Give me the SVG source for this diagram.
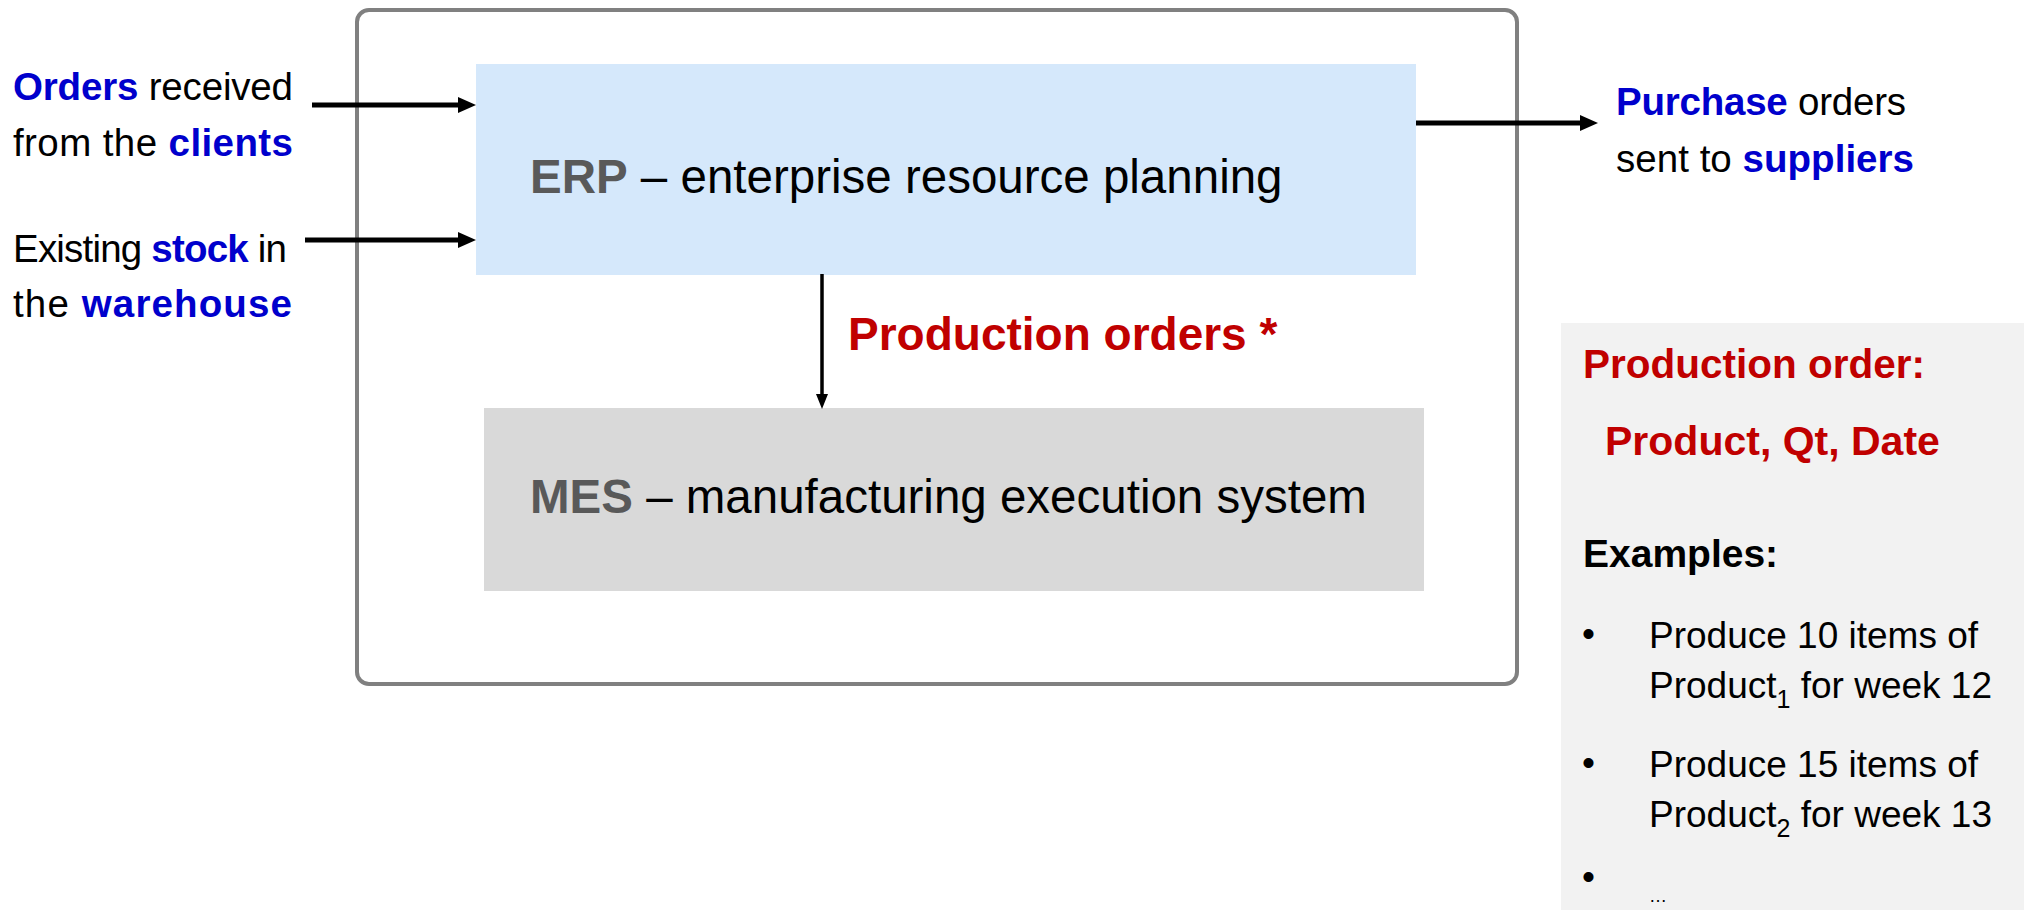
<svg xmlns="http://www.w3.org/2000/svg" width="2024" height="910" viewBox="0 0 2024 910">
  <style>
    text { font-family: "Liberation Sans", Arial, sans-serif; fill: #000; }
    .b { font-weight: bold; }
    .blue { fill: #0000CC; font-weight: bold; }
    .red { fill: #C00000; font-weight: bold; }
    .grey { fill: #595959; font-weight: bold; }
    .lbl { font-size: 38.5px; }
    .sys { font-size: 47.5px; }
    .conn { stroke: #000; fill: none; }
  </style>
  <defs>
    <marker id="ah" markerUnits="userSpaceOnUse" markerWidth="18" markerHeight="16" refX="8" refY="8" orient="auto">
      <path d="M0,0 L18,8 L0,16 z" fill="#000"/>
    </marker>
    <marker id="ahs" markerUnits="userSpaceOnUse" markerWidth="15" markerHeight="12" refX="6" refY="6" orient="auto">
      <path d="M0,0 L15,6 L0,12 z" fill="#000"/>
    </marker>
  </defs>

  <rect width="2024" height="910" fill="#fff"/>

  <g id="container">
    <rect x="357" y="10" width="1160" height="674" rx="12" ry="12" fill="#fff" stroke="#808080" stroke-width="4"/>
  </g>

  <g id="erp">
    <rect x="476" y="64" width="940" height="211" fill="#D5E8FB"/>
    <text class="sys" x="530" y="193"><tspan class="grey">ERP</tspan> – enterprise resource planning</text>
  </g>

  <g id="mes">
    <rect x="484" y="408" width="940" height="183" fill="#D9D9D9"/>
    <text class="sys" x="530" y="513"><tspan class="grey">MES</tspan> – manufacturing execution system</text>
  </g>

  <g id="orders-input">
    <text class="lbl" x="13" y="100" textLength="280" lengthAdjust="spacing"><tspan class="blue">Orders</tspan> received</text>
    <text class="lbl" x="13" y="156" textLength="280" lengthAdjust="spacing">from the <tspan class="blue">clients</tspan></text>
  </g>

  <g id="stock-input">
    <text class="lbl" x="13" y="262" textLength="274" lengthAdjust="spacing">Existing <tspan class="blue">stock</tspan> in</text>
    <text class="lbl" x="13" y="317" textLength="279" lengthAdjust="spacing">the <tspan class="blue">warehouse</tspan></text>
  </g>

  <g id="purchase-output">
    <text class="lbl" x="1616" y="115" textLength="290" lengthAdjust="spacing"><tspan class="blue">Purchase</tspan> orders</text>
    <text class="lbl" x="1616" y="172" textLength="298" lengthAdjust="spacing">sent to <tspan class="blue">suppliers</tspan></text>
  </g>

  <g id="production-order-panel">
    <rect x="1561" y="323" width="463" height="587" fill="#F2F2F2"/>
    <text class="red" x="1583" y="378" font-size="40.5">Production order:</text>
    <text class="red" x="1605" y="455" font-size="41">Product, Qt, Date</text>
    <text class="b" x="1583" y="567" font-size="39">Examples:</text>
    <g font-size="37">
      <text x="1582" y="646">•</text>
      <text x="1649" y="648">Produce 10 items of</text>
      <text x="1649" y="698">Product<tspan font-size="25" dy="10">1</tspan><tspan dy="-10"> for week 12</tspan></text>
      <text x="1582" y="775">•</text>
      <text x="1649" y="777">Produce 15 items of</text>
      <text x="1649" y="827">Product<tspan font-size="25" dy="10">2</tspan><tspan dy="-10"> for week 13</tspan></text>
      <text x="1582" y="889">•</text>
      <text x="1649" y="902" font-size="18">…</text>
    </g>
  </g>

  <g id="connectors">
    <line class="conn" x1="312" y1="105" x2="466" y2="105" stroke-width="5" marker-end="url(#ah)"/>
    <line class="conn" x1="305" y1="240" x2="466" y2="240" stroke-width="5" marker-end="url(#ah)"/>
    <line class="conn" x1="1416" y1="123" x2="1588" y2="123" stroke-width="5" marker-end="url(#ah)"/>
    <line class="conn" x1="822" y1="274" x2="822" y2="400" stroke-width="3.5" marker-end="url(#ahs)"/>
    <text class="red" x="848" y="350" font-size="46">Production orders *</text>
  </g>
</svg>
